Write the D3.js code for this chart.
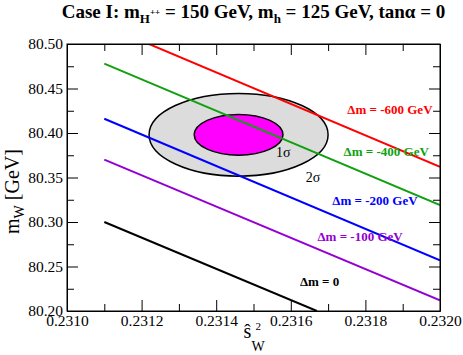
<!DOCTYPE html>
<html>
<head>
<meta charset="utf-8">
<script src="https://cdn.jsdelivr.net/npm/d3@7"></script>
<style>
  body { margin: 0; background: #fff; }
  svg { display: block; }
</style>
</head>
<body>
<svg id="chart"></svg>
<script>
// axis ranges and ticks
const xDomain = [0.2310, 0.2320];
const yDomain = [80.20, 80.50];
const xMajor = [0.2310, 0.2312, 0.2314, 0.2316, 0.2318, 0.2320];
const xMinor = [0.2311, 0.2313, 0.2315, 0.2317, 0.2319];
const yMajor = [80.20, 80.25, 80.30, 80.35, 80.40, 80.45, 80.50];
const yMinor = [80.225, 80.275, 80.325, 80.375, 80.425, 80.475];

// Δm lines (start / end points)
const lineNames = ["Δm = 0", "Δm = -100 GeV", "Δm = -200 GeV", "Δm = -400 GeV", "Δm = -600 GeV"];
const lineStart = [[0.2311, 80.300], [0.2311, 80.370], [0.2311, 80.416], [0.2311, 80.478], [0.23118, 80.507]];
const lineEnd = [[0.23167, 80.200], [0.2320, 80.212], [0.2320, 80.257], [0.2320, 80.319], [0.2320, 80.362]];
// label right edge / vertical middle
const labelAt = [[0.23173, 80.233], [0.23190, 80.284], [0.23194, 80.324], [0.23197, 80.379], [0.23198, 80.427]];

// measurement ellipses
const ellCenter = [0.23146, 80.398];
const sigmaNames = ["2σ", "1σ"];
const sigmaRadii = [[0.000240, 0.0465], [0.000119, 0.0229]];
const sigmaLabelAt = [[0.23164, 80.351], [0.23156, 80.379]];

const lineColors = ["#000000", "#9400d3", "#0000ff", "#10a010", "#ff0000"];
const sigmaFills = ["#dcdcdc", "#ff00ff"];

const serif = "'Liberation Serif', 'Times New Roman', Times, 'DejaVu Serif', serif";

const width = 463;
const height = 355;
const margin = { top: 44, right: 23, bottom: 44, left: 67 };
const chartWidth = width - margin.left - margin.right;
const chartHeight = height - margin.top - margin.bottom;

const svg = d3.select("#chart").attr("width", width).attr("height", height)
  .attr("font-family", serif);

const x = d3.scaleLinear().domain(xDomain).range([0, chartWidth]);
const y = d3.scaleLinear().domain(yDomain).range([chartHeight, 0]);

const g = svg.append("g").attr("transform", `translate(${margin.left},${margin.top})`);

g.append("clipPath").attr("id", "clip")
  .append("rect").attr("width", chartWidth).attr("height", chartHeight);

const plot = g.append("g").attr("clip-path", "url(#clip)");

// Ellipses
plot.selectAll("ellipse")
  .data(sigmaRadii)
  .enter()
  .append("ellipse")
  .attr("cx", x(ellCenter[0]))
  .attr("cy", y(ellCenter[1]))
  .attr("rx", d => x(xDomain[0] + d[0]) - x(xDomain[0]))
  .attr("ry", d => y(yDomain[0]) - y(yDomain[0] + d[1]))
  .attr("fill", (d, i) => sigmaFills[i])
  .attr("stroke", "#000")
  .attr("stroke-width", 1.5);

// Lines
plot.selectAll("line.dm")
  .data(lineNames)
  .enter()
  .append("line")
  .attr("class", "dm")
  .attr("x1", (d, i) => x(lineStart[i][0]))
  .attr("y1", (d, i) => y(lineStart[i][1]))
  .attr("x2", (d, i) => x(lineEnd[i][0]))
  .attr("y2", (d, i) => y(lineEnd[i][1]))
  .attr("stroke", (d, i) => lineColors[i])
  .attr("stroke-width", 2);

// Axes: ticks point inward on all sides
function axisPair(axisFn, scale, major, minor, size, fmt) {
  const a = axisFn(scale).tickValues(major).tickSizeInner(-size[0]).tickSizeOuter(0).tickPadding(4);
  a.tickFormat(fmt || (() => ""));
  const b = axisFn(scale).tickValues(minor).tickSizeInner(-size[1]).tickSizeOuter(0).tickFormat(() => "");
  return [a, b];
}

const fmtX = d3.format(".4f");
const fmtY = d3.format(".2f");

const axes = [
  { fn: d3.axisBottom, s: x, m: xMajor, n: xMinor, t: `translate(0,${chartHeight})`, f: fmtX },
  { fn: d3.axisTop, s: x, m: xMajor, n: xMinor, t: "translate(0,0)", f: null },
  { fn: d3.axisLeft, s: y, m: yMajor, n: yMinor, t: "translate(0,0)", f: fmtY },
  { fn: d3.axisRight, s: y, m: yMajor, n: yMinor, t: `translate(${chartWidth},0)`, f: null }
];

axes.forEach(a => {
  const [maj, min] = axisPair(a.fn, a.s, a.m, a.n, [11, 7], a.f);
  const ga = g.append("g").attr("transform", a.t).call(maj).attr("font-family", serif);
  g.append("g").attr("transform", a.t).call(min).select(".domain").remove();
  ga.selectAll("text").attr("font-size", "15.5px").attr("fill", "#000");
  ga.select(".domain").attr("stroke", "#000");
});
g.selectAll(".tick line").attr("stroke", "#000");

// frame
g.append("rect")
  .attr("width", chartWidth).attr("height", chartHeight)
  .attr("fill", "none").attr("stroke", "#000").attr("stroke-width", 1);

// Labels on lines
g.selectAll("text.dm")
  .data(lineNames)
  .enter()
  .append("text")
  .attr("class", "dm")
  .attr("x", (d, i) => x(labelAt[i][0]))
  .attr("y", (d, i) => y(labelAt[i][1]))
  .attr("dy", "0.35em")
  .attr("text-anchor", "end")
  .attr("font-size", "13px")
  .attr("font-weight", "bold")
  .attr("fill", (d, i) => lineColors[i])
  .text(d => d);

g.selectAll("text.sig")
  .data(sigmaNames)
  .enter()
  .append("text")
  .attr("class", "sig")
  .attr("x", (d, i) => x(sigmaLabelAt[i][0]))
  .attr("y", (d, i) => y(sigmaLabelAt[i][1]))
  .attr("dy", "0.35em")
  .attr("font-size", "14px")
  .attr("fill", "#000")
  .text(d => d);

// Title
const title = svg.append("text")
  .attr("x", margin.left + chartWidth / 2)
  .attr("y", 18)
  .attr("text-anchor", "middle")
  .attr("font-size", "19px")
  .attr("font-weight", "bold");
title.append("tspan").text("Case I: m");
title.append("tspan").attr("font-size", "13px").attr("dy", 5).text("H");
title.append("tspan").attr("font-size", "9px").attr("dy", -8).text("++");
title.append("tspan").attr("dy", 3).text(" = 150 GeV, m");
title.append("tspan").attr("font-size", "13px").attr("dy", 5).text("h");
title.append("tspan").attr("dy", -5).text(" = 125 GeV, tanα = 0");

// Y axis title
const yt = svg.append("text")
  .attr("transform", `translate(19,${margin.top + chartHeight / 2 + 14}) rotate(-90)`)
  .attr("text-anchor", "middle")
  .attr("font-size", "20px");
yt.append("tspan").text("m");
yt.append("tspan").attr("font-size", "14px").attr("dy", 5).text("W");
yt.append("tspan").attr("dy", -5).text(" [GeV]");

// X axis title: hat s, sub W, sup 2
const xt = svg.append("g").attr("transform", `translate(${margin.left + chartWidth / 2 - 10},338)`);
xt.append("text").attr("font-size", "20px").text("ŝ");
xt.append("text").attr("x", 8).attr("y", 13).attr("font-size", "14px").text("W");
xt.append("text").attr("x", 12).attr("y", -8).attr("font-size", "11px").text("2");
</script>
</body>
</html>
